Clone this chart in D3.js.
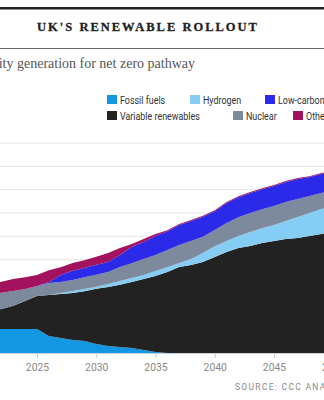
<!DOCTYPE html>
<html>
<head>
<meta charset="utf-8">
<script src="https://cdn.jsdelivr.net/npm/d3@7"></script>
<style>
  body { margin: 0; background: #fff; }
  svg { display: block; }
</style>
</head>
<body>
<div class="chart-container"></div>
<script>
// values (TWh-ish, gridline every 100)
let years = [2021, 2022, 2023, 2024, 2025, 2026, 2027, 2028, 2029, 2030,
  2031, 2032, 2033, 2034, 2035, 2036, 2037, 2038, 2039, 2040,
  2041, 2042, 2043, 2044, 2045, 2046, 2047, 2048, 2049, 2050]

let fossilFuels = [103, 103, 103, 103, 103, 73, 64, 56, 51, 39,
  30, 26, 21, 13, 4, 0, 0, 0, 0, 0,
  0, 0, 0, 0, 0, 0, 0, 0, 0, 0]
let variableRenewables = [77, 86, 99, 120, 141, 176, 189, 201, 214, 236,
  253, 266, 283, 304, 326, 347, 369, 377, 390, 411,
  433, 450, 459, 471, 480, 489, 493, 501, 510, 519]
let hydrogen = [0, 0, 0, 0, 0, 0, 4, 9, 9, 9,
  13, 17, 17, 17, 21, 21, 17, 26, 39, 47,
  47, 51, 60, 64, 69, 77, 90, 99, 107, 111]
let nuclear = [69, 69, 64, 51, 43, 51, 47, 47, 51, 51,
  51, 60, 64, 69, 69, 73, 77, 77, 69, 69,
  77, 81, 81, 81, 81, 81, 77, 73, 69, 69]
let lowCarbon = [0, 0, 0, 0, 0, 4, 30, 39, 39, 43,
  43, 51, 69, 73, 81, 81, 86, 86, 86, 81,
  86, 86, 86, 86, 86, 86, 86, 81, 81, 81]
let other = [47, 47, 51, 51, 47, 51, 34, 34, 34, 34,
  39, 30, 13, 13, 9, 4, 4, 4, 4, 4,
  4, 4, 4, 4, 4, 4, 4, 4, 4, 4]

let seriesNames = ['Fossil fuels', 'Variable renewables', 'Hydrogen', 'Nuclear', 'Low-carbon dispatchable', 'Other']
let seriesValues = [fossilFuels, variableRenewables, hydrogen, nuclear, lowCarbon, other]
let xTicks = [2020, 2025, 2030, 2035, 2040, 2045, 2050]
let yGrid = [100, 200, 300, 400, 500, 600, 700, 800, 900]

let color = d3.scaleOrdinal()
  .domain(seriesNames)
  .range([
    '#1497e2', // fossil
    '#222222', // variable renewables
    '#86cdf6', // hydrogen
    '#7d899c', // nuclear
    '#2b2ae8', // low-carbon
    '#a3125f' // other
  ])

let width = 324, height = 400

let svg = d3.select('.chart-container')
  .append('svg')
  .attr('width', width)
  .attr('height', height)

// header rules + title
svg.append('rect').attr('x', 0).attr('y', 7).attr('width', width).attr('height', 2.5).attr('fill', '#222')
svg.append('rect').attr('x', 0).attr('y', 48).attr('width', width).attr('height', 1).attr('fill', '#666')

svg.append('text')
  .attr('x', 148)
  .attr('y', 31)
  .attr('text-anchor', 'middle')
  .style('font-family', '"Liberation Serif", "DejaVu Serif", serif')
  .style('font-weight', 'bold')
  .style('font-size', '12.5px')
  .style('letter-spacing', '2px')
  .attr('fill', '#222')
  .attr('stroke', '#222')
  .attr('stroke-width', 0.3)
  .text("UK'S RENEWABLE ROLLOUT")

svg.append('text')
  .attr('x', 195)
  .attr('y', 68)
  .attr('text-anchor', 'end')
  .style('font-family', '"Liberation Serif", "DejaVu Serif", serif')
  .style('font-size', '14px')
  .attr('fill', '#555')
  .text('Electricity generation for net zero pathway')

// legend
let legendItems = [
  { name: 'Fossil fuels', x: 107, row: 0 },
  { name: 'Hydrogen', x: 190, row: 0 },
  { name: 'Low-carbon dispatchable', x: 265, row: 0 },
  { name: 'Variable renewables', x: 107, row: 1 },
  { name: 'Nuclear', x: 233, row: 1 },
  { name: 'Other', x: 293, row: 1 }
]

let legend = svg.selectAll('.legend')
  .data(legendItems)
  .enter()
  .append('g')
  .attr('class', 'legend')
  .attr('transform', d => `translate(${d.x},${95 + d.row * 16})`)

legend.append('rect')
  .attr('width', 10)
  .attr('height', 9)
  .attr('fill', d => color(d.name))

// the legend font is a narrow one, squeeze a regular sans to fit
legend.append('text')
  .attr('transform', 'translate(13,8.5) scale(0.85,1)')
  .style('font-family', 'Roboto, "DejaVu Sans", sans-serif')
  .style('font-size', '10.5px')
  .attr('fill', '#333')
  .text(d => d.name)

// scales
let x = d3.scaleLinear()
  .domain([2025, 2045])
  .range([37, 274])

let y = d3.scaleLinear()
  .domain([0, 900])
  .range([353, 143])

// gridlines
svg.append('g')
  .selectAll('line')
  .data(yGrid)
  .enter()
  .append('line')
  .attr('x1', 0)
  .attr('x2', width)
  .attr('y1', d => y(d))
  .attr('y2', d => y(d))
  .attr('stroke', '#e4e4e4')
  .attr('stroke-width', 1)

// stacked areas
let table = years.map((yr, i) => {
  let row = { year: yr }
  seriesNames.forEach((name, j) => { row[name] = seriesValues[j][i] })
  return row
})

let stack = d3.stack().keys(seriesNames)
let area = d3.area()
  .x(d => x(d.data.year))
  .y0(d => y(d[0]))
  .y1(d => y(d[1]))

svg.append('g')
  .selectAll('path')
  .data(stack(table))
  .enter()
  .append('path')
  .attr('d', area)
  .attr('fill', d => color(d.key))

// x axis
let xAxis = svg.append('g')
  .attr('transform', `translate(0,${y(0)})`)
  .call(d3.axisBottom(x).tickValues(xTicks).tickFormat(d3.format('d')).tickSize(5).tickPadding(5))

xAxis.select('.domain')
  .attr('d', `M0,0.5H${width}`)
  .attr('stroke', '#c9d3dc')
xAxis.selectAll('.tick line').attr('stroke', '#ccc')
xAxis.selectAll('.tick text')
  .attr('transform', 'scale(0.9,1)')
  .style('font-family', 'Roboto, "DejaVu Sans", sans-serif')
  .style('font-size', '11.5px')
  .attr('fill', '#888')

// source
svg.append('text')
  .attr('x', 235)
  .attr('y', 390)
  .style('font-family', 'Roboto, "DejaVu Sans", sans-serif')
  .style('font-size', '8.5px')
  .style('letter-spacing', '1.3px')
  .attr('fill', '#888')
  .text('SOURCE: CCC ANALYSIS')
</script>
</body>
</html>
